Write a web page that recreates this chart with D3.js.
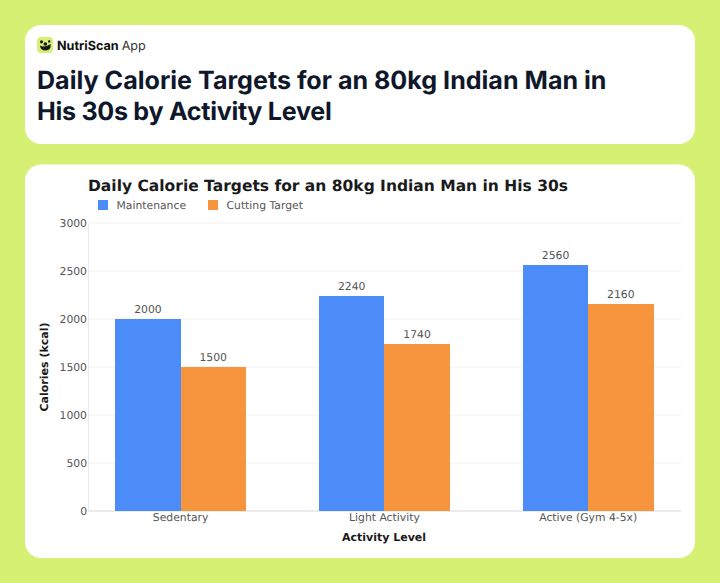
<!DOCTYPE html>
<html>
<head>
<meta charset="utf-8">
<script src="https://cdn.jsdelivr.net/npm/d3@7"></script>
<style>
html, body { margin: 0; padding: 0; background: #d6f073; }
svg { display: block; text-rendering: geometricPrecision; }
</style>
</head>
<body>
<svg id="chart" width="720" height="583"></svg>
<script>
const width = 720;
const height = 583;

const categories = ["Sedentary", "Light Activity", "Active (Gym 4-5x)"];
const seriesNames = ["Maintenance", "Cutting Target"];
const maintenance = [2000, 2240, 2560];
const cutting = [1500, 1740, 2160];
const yTicks = [0, 500, 1000, 1500, 2000, 2500, 3000];
const colors = ["#4c8cf8", "#f7953f"];

const sans = "Inter, 'Noto Sans', sans-serif";
const dejavu = "'DejaVu Sans', sans-serif";

var svg = d3.select("#chart");

// cards
svg.append("rect").attr("x", 25).attr("y", 25).attr("width", 670).attr("height", 119).attr("rx", 16).attr("fill", "#fff");
svg.append("rect").attr("x", 25).attr("y", 164.5).attr("width", 670).attr("height", 393.5).attr("rx", 16).attr("fill", "#fff");

// logo
var logo = svg.append("g").attr("transform", "translate(37,37)");
logo.append("rect").attr("width", 16).attr("height", 16).attr("rx", 4).attr("fill", "#d6f073");
logo.append("path").attr("d", "M3 8.5 Q8 11 13.5 7 Q14.5 13.5 8.5 13.5 Q3.5 13.5 3 8.5Z").attr("fill", "#1a1a12");
logo.append("circle").attr("cx", 4.5).attr("cy", 4.8).attr("r", 1.6).attr("fill", "#1a1a12");
logo.append("circle").attr("cx", 8.3).attr("cy", 7).attr("r", 1.8).attr("fill", "#1a1a12");
logo.append("circle").attr("cx", 12.2).attr("cy", 4.4).attr("r", 1.2).attr("fill", "#1a1a12");

var brand = svg.append("text").attr("x", 57).attr("y", 50)
    .attr("font-family", sans).attr("font-size", 12.6).attr("fill", "#111");
brand.append("tspan").attr("font-weight", 700).text("NutriScan");
brand.append("tspan").attr("dx", 3).attr("fill", "#333").text("App");

// headline
svg.append("text").attr("x", 37).attr("y", 89)
    .attr("font-family", sans).attr("font-size", 25.1).attr("font-weight", 700).attr("fill", "#0f172a")
    .text("Daily Calorie Targets for an 80kg Indian Man in");
svg.append("text").attr("x", 37).attr("y", 120)
    .attr("font-family", sans).attr("font-size", 25.1).attr("font-weight", 700).attr("fill", "#0f172a")
    .attr("letter-spacing", -0.29)
    .text("His 30s by Activity Level");

// chart title
svg.append("text").attr("x", 88).attr("y", 191)
    .attr("font-family", dejavu).attr("font-size", 15.5).attr("font-weight", 700).attr("fill", "#1a1a1a")
    .text("Daily Calorie Targets for an 80kg Indian Man in His 30s");

// legend
var legendX = d3.scaleOrdinal().domain(seriesNames).range([98, 208]);
var legend = svg.append("g").selectAll("g").data(seriesNames).join("g")
    .attr("transform", d => "translate(" + legendX(d) + ",200)");
legend.append("rect").attr("width", 10).attr("height", 10).attr("fill", (d, i) => colors[i]);
legend.append("text").attr("x", 18.5).attr("y", 9.2)
    .attr("font-family", dejavu).attr("font-size", 10.8).attr("fill", "#555")
    .text(d => d);

// scales
var x = d3.scaleBand().domain(categories).range([78.7, 690.1]);
var y = d3.scaleLinear().domain([0, 3000]).range([511, 223]);
var groupPad = 36.6;
var x1 = d3.scaleBand().domain(seriesNames).range([groupPad, x.bandwidth() - groupPad]);

// grid
svg.append("g").selectAll("line").data(yTicks.slice(1)).join("line")
    .attr("x1", 88).attr("x2", 681)
    .attr("y1", d => y(d)).attr("y2", d => y(d))
    .attr("stroke", "#f1f1f1").attr("stroke-width", 1);

// axes
var yAxis = svg.append("g").attr("transform", "translate(88,0)")
    .call(d3.axisLeft(y).tickValues(yTicks).tickFormat(d3.format("d")).tickSize(0).tickPadding(1));
yAxis.select(".domain").attr("stroke", "#eaeaea");
yAxis.selectAll("text").attr("font-family", dejavu).attr("font-size", 10.8).attr("fill", "#555");

var xAxis = svg.append("g").attr("transform", "translate(0,511)")
    .call(d3.axisBottom(x).tickSize(0).tickPadding(2));
xAxis.select(".domain").remove();
xAxis.selectAll("text").attr("font-family", dejavu).attr("font-size", 10.8).attr("fill", "#555");
svg.append("line").attr("x1", 88).attr("x2", 681).attr("y1", 511).attr("y2", 511)
    .attr("stroke", "#e6e6e6").attr("stroke-width", 1.5);

// bars
var rows = categories.map((c, i) => ({ category: c, values: [maintenance[i], cutting[i]] }));
var groups = svg.append("g").selectAll("g").data(rows).join("g")
    .attr("transform", d => "translate(" + x(d.category) + ",0)");
var cells = groups.selectAll("g").data(d => d.values.map((v, i) => ({ name: seriesNames[i], value: v, i: i }))).join("g");
cells.append("rect")
    .attr("x", d => x1(d.name)).attr("width", x1.bandwidth())
    .attr("y", d => y(d.value)).attr("height", d => y(0) - y(d.value))
    .attr("shape-rendering", "crispEdges")
    .attr("fill", d => colors[d.i]);
cells.append("text")
    .attr("x", d => x1(d.name) + x1.bandwidth() / 2).attr("y", d => y(d.value) - 6)
    .attr("text-anchor", "middle")
    .attr("font-family", dejavu).attr("font-size", 10.8).attr("fill", "#555")
    .text(d => d.value);

// axis titles
svg.append("text").attr("x", 384).attr("y", 541).attr("text-anchor", "middle")
    .attr("font-family", dejavu).attr("font-size", 11).attr("font-weight", 700).attr("fill", "#1a1a1a")
    .text("Activity Level");
svg.append("text").attr("transform", "translate(48,367) rotate(-90)").attr("text-anchor", "middle")
    .attr("font-family", dejavu).attr("font-size", 11).attr("font-weight", 700).attr("fill", "#1a1a1a")
    .text("Calories (kcal)");
</script>
</body>
</html>
